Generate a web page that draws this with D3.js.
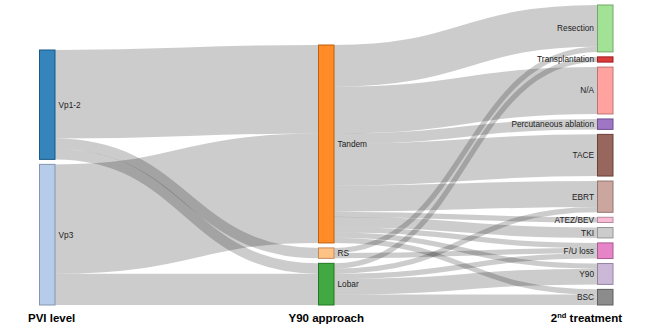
<!DOCTYPE html>
<html>
<head>
<meta charset="utf-8">
<script src="https://cdn.jsdelivr.net/npm/d3@7"></script>
<style>
  body { margin: 0; background: #fff; }
  svg { display: block; font-family: Arial, "Liberation Sans", sans-serif; }
</style>
</head>
<body>
<svg id="chart" width="656" height="334"></svg>
<script>
const columnTitles = ["PVI level", "Y90 approach", "2nd treatment"];

const pviLevels = ["Vp1-2", "Vp3"];
const approaches = ["Tandem", "RS", "Lobar"];
const treatments = ["Resection", "Transplantation", "N/A", "Percutaneous ablation", "TACE",
  "EBRT", "ATEZ/BEV", "TKI", "F/U loss", "Y90", "BSC"];

// patients flowing PVI level -> Y90 approach
const pviFlows = [
  ["Vp1-2", "Tandem", 17],
  ["Vp1-2", "RS", 2],
  ["Vp1-2", "Lobar", 2],
  ["Vp3", "Tandem", 21],
  ["Vp3", "Lobar", 6],
];

// patients flowing Y90 approach -> 2nd treatment
const treatmentFlows = [
  ["Tandem", "Resection", 8],
  ["Tandem", "N/A", 9],
  ["Tandem", "Percutaneous ablation", 2],
  ["Tandem", "TACE", 8],
  ["Tandem", "EBRT", 5],
  ["Tandem", "ATEZ/BEV", 1],
  ["Tandem", "TKI", 2],
  ["Tandem", "F/U loss", 1],
  ["Tandem", "Y90", 1],
  ["Tandem", "BSC", 1],
  ["RS", "Resection", 1],
  ["RS", "F/U loss", 1],
  ["Lobar", "Transplantation", 1],
  ["Lobar", "EBRT", 1],
  ["Lobar", "F/U loss", 1],
  ["Lobar", "Y90", 3],
  ["Lobar", "BSC", 2],
];

const nodeColors = {
  "Vp1-2": "#1f77b4", "Vp3": "#aec7e8",
  "Tandem": "#ff7f0e", "RS": "#ffbb78", "Lobar": "#2ca02c",
  "Resection": "#98df8a", "Transplantation": "#d62728", "N/A": "#ff9896",
  "Percutaneous ablation": "#9467bd", "TACE": "#8c564b", "EBRT": "#c49c94",
  "ATEZ/BEV": "#f7b6d2", "TKI": "#c7c7c7", "F/U loss": "#e377c2",
  "Y90": "#c5b0d5", "BSC": "#7f7f7f",
};

const NODE_WIDTH = 15.5;
const NODE_PADDING = 5;
const TOP = 5, BOTTOM = 305;

const svg = d3.select("#chart");

// build nodes and links
const columns = [pviLevels, approaches, treatments];
const nodes = [];
const byName = {};
columns.forEach((names, col) => {
  names.forEach(name => {
    const node = {name, col, sourceLinks: [], targetLinks: []};
    nodes.push(node);
    byName[name] = node;
  });
});

const links = [...pviFlows, ...treatmentFlows].map(([s, t, value]) => {
  const link = {source: byName[s], target: byName[t], value};
  link.source.sourceLinks.push(link);
  link.target.targetLinks.push(link);
  return link;
});

nodes.forEach(n => {
  n.value = Math.max(d3.sum(n.sourceLinks, l => l.value), d3.sum(n.targetLinks, l => l.value));
});

// vertical scale: the tightest column decides it
const ky = d3.min(columns, names =>
  (BOTTOM - TOP - (names.length - 1) * NODE_PADDING) / d3.sum(names, n => byName[n].value));
const y = d3.scaleLinear().domain([0, 1]).range([0, ky]);

const x = d3.scalePoint().domain([0, 1, 2]).range([39.5, 597.5]);

// stack every column from the bottom edge
columns.forEach(names => {
  let yy = BOTTOM;
  names.slice().reverse().forEach(name => {
    const n = byName[name];
    n.y1 = yy;
    n.y0 = yy - y(n.value);
    yy = n.y0 - NODE_PADDING;
  });
});
nodes.forEach(n => {
  n.x0 = x(n.col);
  n.x1 = n.x0 + NODE_WIDTH;
});

// link offsets at both ends
nodes.forEach(n => {
  n.sourceLinks.sort((a, b) => a.target.y0 - b.target.y0);
  n.targetLinks.sort((a, b) => a.source.y0 - b.source.y0);
  let sy = n.y0, ty = n.y0;
  n.sourceLinks.forEach(l => {
    l.width = y(l.value);
    l.y0 = sy + l.width / 2;
    sy += l.width;
  });
  n.targetLinks.forEach(l => {
    l.y1 = ty + y(l.value) / 2;
    ty += y(l.value);
  });
});

const linkPath = d3.linkHorizontal()
  .source(d => [d.source.x1, d.y0])
  .target(d => [d.target.x0, d.y1]);

svg.append("g")
    .attr("class", "links")
    .attr("fill", "none")
    .attr("stroke", "#000")
    .attr("stroke-opacity", 0.2)
  .selectAll("path")
  .data(links)
  .join("path")
    .attr("d", linkPath)
    .attr("stroke-width", d => Math.max(1, d.width));

svg.append("g")
    .attr("class", "nodes")
  .selectAll("rect")
  .data(nodes)
  .join("rect")
    .attr("x", d => d.x0)
    .attr("y", d => d.y0)
    .attr("width", d => d.x1 - d.x0)
    .attr("height", d => d.y1 - d.y0)
    .attr("fill", d => nodeColors[d.name])
    .attr("fill-opacity", 0.9)
    .attr("stroke", d => d3.rgb(nodeColors[d.name]).darker(0.8))
    .attr("stroke-width", 1);

svg.append("g")
    .attr("class", "labels")
    .attr("font-size", 8.3)
    .attr("fill", "#222")
  .selectAll("text")
  .data(nodes)
  .join("text")
    .attr("x", d => d.col === 2 ? d.x0 - 3.5 : d.x1 + 3.5)
    .attr("y", d => (d.y0 + d.y1) / 2)
    .attr("dy", "0.35em")
    .attr("text-anchor", d => d.col === 2 ? "end" : "start")
    .text(d => d.name);

// column titles
const titles = svg.append("g")
    .attr("class", "titles")
    .attr("font-size", 11.5)
    .attr("font-weight", "bold")
    .attr("fill", "#000");

titles.append("text")
    .attr("x", 28)
    .attr("y", 322)
    .text(columnTitles[0]);

titles.append("text")
    .attr("x", x(1) + NODE_WIDTH / 2)
    .attr("y", 322)
    .attr("text-anchor", "middle")
    .text(columnTitles[1]);

const last = titles.append("text")
    .attr("x", 622)
    .attr("y", 322)
    .attr("text-anchor", "end");
last.append("tspan").text(columnTitles[2].slice(0, 1));
last.append("tspan")
    .attr("font-size", 7.5)
    .attr("baseline-shift", "super")
    .text(columnTitles[2].slice(1, 3));
last.append("tspan").text(columnTitles[2].slice(3));
</script>
</body>
</html>
